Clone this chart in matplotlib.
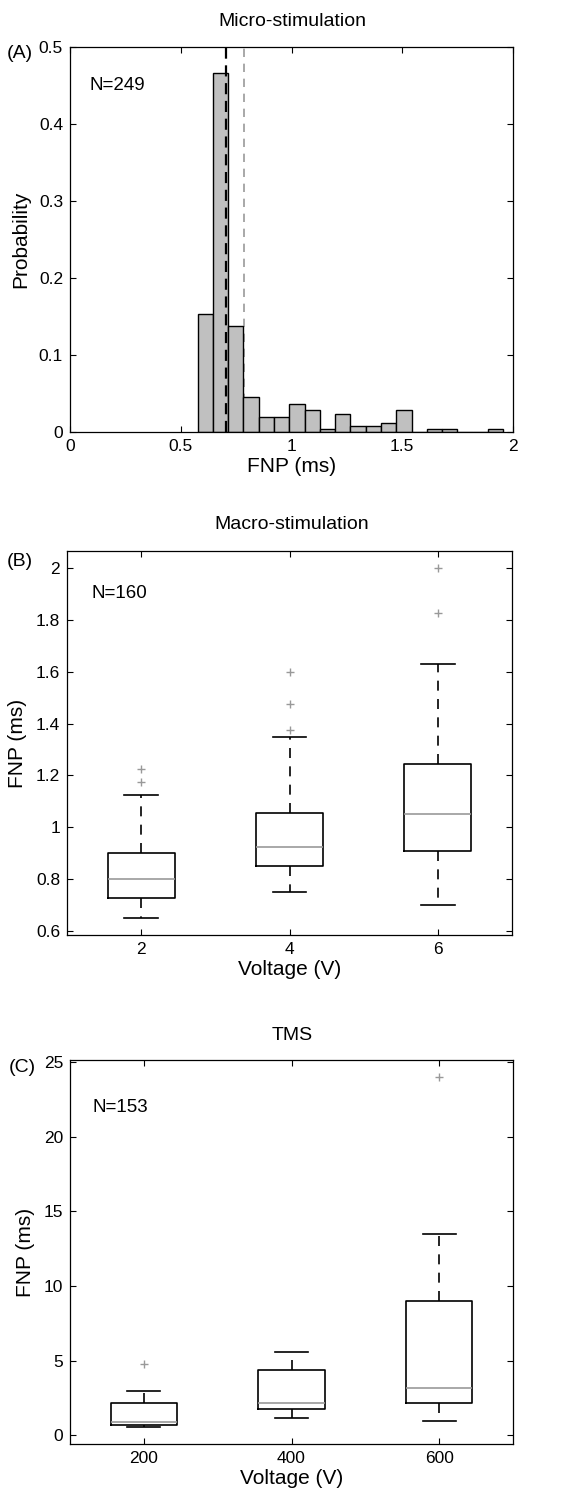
import matplotlib
matplotlib.use("Agg")
import matplotlib.pyplot as plt
from matplotlib.ticker import FuncFormatter

plt.rcParams['font.family'] = ['Liberation Sans', 'DejaVu Sans']

# Panel A: histogram of FNP (micro-stimulation)
bin_start = 0.576
bin_width = 0.069
probs = [0.153, 0.466, 0.138, 0.045, 0.020, 0.020, 0.036, 0.028, 0.004, 0.024,
         0.008, 0.008, 0.012, 0.028, 0.0, 0.004, 0.004, 0.0, 0.0, 0.004]
median_a = 0.704
mean_a = 0.785

# Panel B: macro-stimulation boxplots
volt_b = [2, 4, 6]
q1_b = [0.726, 0.851, 0.909]
med_b = [0.800, 0.925, 1.051]
q3_b = [0.900, 1.056, 1.244]
lo_b = [0.652, 0.751, 0.702]
hi_b = [1.125, 1.349, 1.628]
out_b = [[1.175, 1.226], [1.375, 1.475, 1.600], [1.825, 2.000]]

# Panel C: TMS boxplots
volt_c = [200, 400, 600]
q1_c = [0.67, 1.76, 2.18]
med_c = [0.89, 2.18, 3.19]
q3_c = [2.14, 4.37, 8.96]
lo_c = [0.56, 1.18, 0.98]
hi_c = [2.99, 5.57, 13.46]
out_c = [[4.79], [], [23.96]]

W, H = 585, 1495
fig = plt.figure(figsize=(W / 100, H / 100), dpi=100)


def px_axes(l, t, r, b):
    return fig.add_axes([l / W, 1 - b / H, (r - l) / W, (b - t) / H])


def style(ax):
    ax.tick_params(direction='in', top=True, right=True, length=4,
                   width=0.8, labelsize=12.5, pad=5)
    for s in ax.spines.values():
        s.set_linewidth(0.9)
    ax.yaxis.set_major_formatter(FuncFormatter(lambda v, p: '%g' % v))


def boxes(ax, pos, q1, med, q3, lo, hi, out, width):
    stats = []
    for i in range(len(pos)):
        stats.append(dict(q1=q1[i], med=med[i], q3=q3[i], whislo=lo[i],
                          whishi=hi[i], fliers=out[i]))
    ax.bxp(stats, positions=pos, widths=width, capwidths=width * 0.5,
           boxprops=dict(color='black', linewidth=1.2),
           whiskerprops=dict(color='black', linewidth=1.2, linestyle=(0, (6, 5))),
           capprops=dict(color='black', linewidth=1.2),
           medianprops=dict(color='#999999', linewidth=1.2),
           flierprops=dict(marker='+', markeredgecolor='#999999',
                           markersize=6, linestyle='none'),
           manage_ticks=False)


# ---- (A)
ax = px_axes(70, 47, 513, 432)
edges = [bin_start + i * bin_width for i in range(len(probs))]
ax.axvline(mean_a, color='#999999', linestyle=(0, (5, 4)), linewidth=1.2, zorder=1)
ax.bar(edges, probs, width=bin_width, align='edge', color='#c0c0c0',
       edgecolor='black', linewidth=1.0, zorder=2)
ax.axvline(median_a, color='black', linestyle=(0, (5, 3)), linewidth=1.6, zorder=3)
ax.set_xlim(0, 2)
ax.set_ylim(0, 0.5)
ax.set_xticks([0, 0.5, 1, 1.5, 2])
ax.set_yticks([0, 0.1, 0.2, 0.3, 0.4, 0.5])
ax.xaxis.set_major_formatter(FuncFormatter(lambda v, p: '%g' % v))
style(ax)
ax.set_xlabel('FNP (ms)', fontsize=15, labelpad=2)
ax.set_ylabel('Probability', fontsize=15, labelpad=6)
ax.text(0.045, 0.9, 'N=249', transform=ax.transAxes, fontsize=13.5, va='center')
fig.text(292 / W, 1 - 22 / H, 'Micro-stimulation', fontsize=14, ha='center', va='center')
fig.text(20 / W, 1 - 53 / H, '(A)', fontsize=14, ha='center', va='center')

# ---- (B)
ax = px_axes(67, 551, 512, 935)
boxes(ax, volt_b, q1_b, med_b, q3_b, lo_b, hi_b, out_b, 0.9)
ax.set_xlim(1, 7)
ax.set_ylim(0.585, 2.065)
ax.set_xticks(volt_b)
ax.set_yticks([0.6, 0.8, 1.0, 1.2, 1.4, 1.6, 1.8, 2.0])
style(ax)
ax.set_xlabel('Voltage (V)', fontsize=15, labelpad=2)
ax.set_ylabel('FNP (ms)', fontsize=15, labelpad=6)
ax.text(0.055, 0.89, 'N=160', transform=ax.transAxes, fontsize=13.5, va='center')
fig.text(292 / W, 1 - 524 / H, 'Macro-stimulation', fontsize=14, ha='center', va='center')
fig.text(20 / W, 1 - 562 / H, '(B)', fontsize=14, ha='center', va='center')

# ---- (C)
ax = px_axes(70, 1060, 513, 1444)
boxes(ax, volt_c, q1_c, med_c, q3_c, lo_c, hi_c, out_c, 90)
ax.set_xlim(100, 700)
ax.set_ylim(-0.58, 25.12)
ax.set_xticks(volt_c)
ax.set_yticks([0, 5, 10, 15, 20, 25])
style(ax)
ax.set_xlabel('Voltage (V)', fontsize=15, labelpad=2)
ax.set_ylabel('FNP (ms)', fontsize=15, labelpad=6)
ax.text(0.05, 0.875, 'N=153', transform=ax.transAxes, fontsize=13.5, va='center')
fig.text(292 / W, 1 - 1036 / H, 'TMS', fontsize=14, ha='center', va='center')
fig.text(22 / W, 1 - 1068 / H, '(C)', fontsize=14, ha='center', va='center')

fig.savefig('out.png', dpi=100)
